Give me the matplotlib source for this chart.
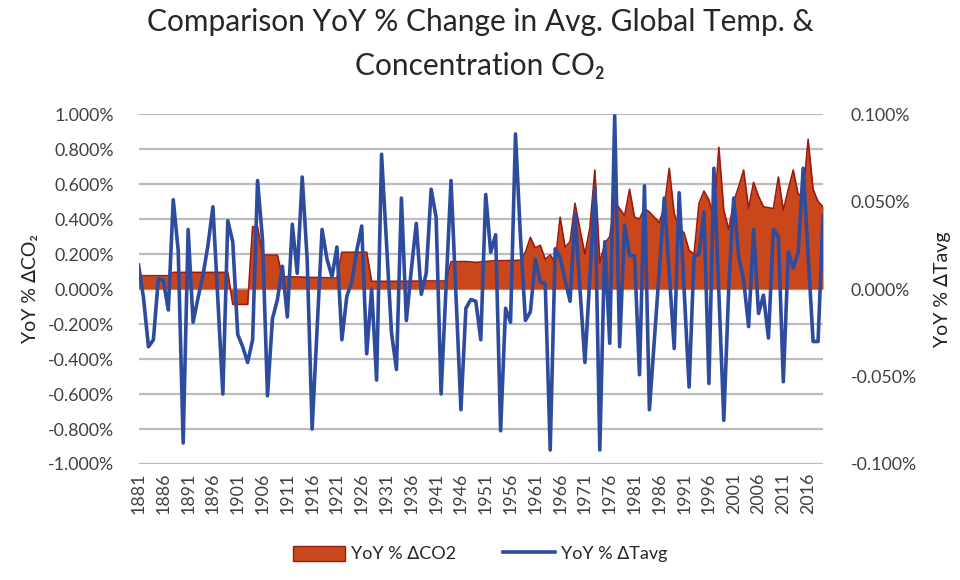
import matplotlib
matplotlib.use("Agg")
import matplotlib.pyplot as plt
from matplotlib.patches import Patch
from matplotlib.lines import Line2D
from matplotlib.ticker import FuncFormatter

plt.rcParams["font.family"] = ["Lato", "DejaVu Sans"]

# -----------------------------------------------------------------------------
years = list(range(1881, 2020))

# YoY % change in CO2 concentration (left axis, %)
co2_change = [
    0.076, 0.076, 0.076, 0.076, 0.076, 0.076, 0.076,
    0.095, 0.095, 0.095, 0.095, 0.095, 0.095, 0.095, 0.095, 0.095, 0.095, 0.095, 0.095,
    -0.088, -0.088, -0.088, -0.088,
    0.356, 0.356,
    0.194, 0.194, 0.194, 0.194,
    0.070, 0.070, 0.069, 0.069, 0.068, 0.067, 0.066, 0.066, 0.065, 0.064, 0.063, 0.062,
    0.210, 0.210, 0.210, 0.210, 0.210, 0.210,
    0.044, 0.044, 0.044, 0.044, 0.044, 0.044, 0.044, 0.044,
    0.045, 0.045, 0.046, 0.046, 0.046, 0.046, 0.046, 0.046,
    0.156, 0.156, 0.157, 0.157, 0.155, 0.152, 0.155, 0.157, 0.160, 0.162, 0.162, 0.162,
    0.163, 0.163,
    0.165, 0.210, 0.295, 0.235, 0.250, 0.170, 0.195, 0.150, 0.410, 0.240,
    0.270, 0.490, 0.340, 0.200, 0.350, 0.680, 0.150, 0.260, 0.300, 0.500,
    0.460, 0.420, 0.570, 0.410, 0.400, 0.460, 0.440, 0.410, 0.380, 0.470,
    0.690, 0.430, 0.350, 0.320, 0.220, 0.200, 0.490, 0.560, 0.510, 0.400,
    0.810, 0.450, 0.340, 0.500, 0.585, 0.680, 0.460, 0.610, 0.530, 0.470,
    0.465, 0.460, 0.640, 0.450, 0.570, 0.680, 0.540, 0.540, 0.855, 0.570,
    0.500, 0.470,
]

# YoY % change in average global temperature (right axis, %)
tavg_change = [
    0.0137, -0.005, -0.033, -0.029, 0.006, 0.005, -0.012, 0.051, 0.022, -0.088,
    0.034, -0.019, -0.005, 0.008, 0.025, 0.047, -0.006, -0.060, 0.039, 0.027,
    -0.026, -0.033, -0.042, -0.029, 0.062, 0.028, -0.061, -0.017, -0.006, 0.013,
    -0.016, 0.037, 0.009, 0.064, 0.017, -0.080, -0.023, 0.034, 0.017, 0.007,
    0.024, -0.029, -0.004, 0.004, 0.022, 0.036, -0.037, 0.000, -0.052, 0.077,
    0.026, -0.025, -0.046, 0.052, -0.018, 0.011, 0.0375, -0.003, 0.009, 0.057,
    0.041, -0.060, 0.001, 0.062, -0.0035, -0.069, -0.011, -0.006, -0.007, -0.029,
    0.054, 0.021, 0.031, -0.081, -0.011, -0.019, 0.0886, 0.030, -0.018, -0.013,
    0.017, 0.004, 0.003, -0.092, 0.023, 0.018, 0.005, -0.007, 0.043, 0.000,
    -0.042, 0.007, 0.0575, -0.092, 0.027, -0.031, 0.099, -0.033, 0.0365, 0.019,
    0.019, -0.049, 0.059, -0.069, -0.029, 0.011, 0.052, 0.009, -0.034, 0.055,
    0.000, -0.056, 0.0185, 0.020, 0.044, -0.054, 0.069, -0.002, -0.075, 0.001,
    0.052, 0.0185, 0.005, -0.0215, 0.034, -0.014, -0.0035, -0.028, 0.034, 0.030,
    -0.053, 0.021, 0.012, 0.021, 0.069, 0.020, -0.030, -0.030, 0.042,
]

tick_years = list(range(1881, 2020, 5))
left_ticks = [-1.0, -0.8, -0.6, -0.4, -0.2, 0.0, 0.2, 0.4, 0.6, 0.8, 1.0]
right_ticks = [-0.1, -0.05, 0.0, 0.05, 0.1]

fill_color = "#C9471B"
edge_color = "#9E1A0E"
line_color = "#2E4C9E"
grid_color = "#BDBDBD"
text_color = "#404040"
# -----------------------------------------------------------------------------


def pct(v, pos):
    if abs(v) < 1e-9:
        v = 0.0
    return f"{v:.3f}%"


fig = plt.figure(figsize=(9.6, 5.8), dpi=100)
ax = fig.add_axes([0.1443, 0.2, 0.713, 0.6034])
ax2 = ax.twinx()

ax.fill_between(years, 0, co2_change, color=fill_color, linewidth=0, zorder=2)
ax.plot(years, co2_change, color=edge_color, linewidth=1.2, zorder=3)
ax2.plot(years, tavg_change, color=line_color, linewidth=2.6, zorder=4)

ax.set_xlim(1881, 2019)
ax.set_ylim(-1.0, 1.0)
ax2.set_ylim(-0.1, 0.1)

ax.set_yticks(left_ticks)
ax2.set_yticks(right_ticks)
ax.yaxis.set_major_formatter(FuncFormatter(pct))
ax2.yaxis.set_major_formatter(FuncFormatter(pct))
ax.set_xticks(tick_years)
ax.set_xticklabels([str(y) for y in tick_years], rotation=90)

for a in (ax, ax2):
    for s in a.spines.values():
        s.set_visible(False)
    a.tick_params(length=0, labelsize=12.8, colors=text_color)
ax.tick_params(axis="y", pad=18)
ax2.tick_params(axis="y", pad=20)
ax.tick_params(axis="x", pad=6)

ax.grid(axis="y", color=grid_color, linewidth=1.6, zorder=0)
ax.set_axisbelow(True)

ax.set_ylabel("YoY % \u2206CO\u2082", fontsize=14, color="#202020", labelpad=6)
ax2.set_ylabel("YoY % \u2206Tavg", fontsize=14, color="#202020", labelpad=12)

fig.text(0.5, 0.962, "Comparison YoY % Change in Avg. Global Temp. &",
         ha="center", va="center", fontsize=21.5, color="#262626")
fig.text(0.5, 0.886, "Concentration CO\u2082",
         ha="center", va="center", fontsize=21.5, color="#262626")

handles = [
    Patch(facecolor=fill_color, edgecolor=edge_color, linewidth=1.0),
    Line2D([0], [0], color=line_color, linewidth=2.6),
]
fig.legend(handles, ["YoY % \u2206CO2", "YoY % \u2206Tavg"], loc="center",
           bbox_to_anchor=(0.5, 0.045), ncol=2, frameon=False, fontsize=13,
           handlelength=2.9, handleheight=0.9, columnspacing=2.6, handletextpad=0.3,
           labelcolor="#262626")

fig.savefig("out.png", dpi=100)
